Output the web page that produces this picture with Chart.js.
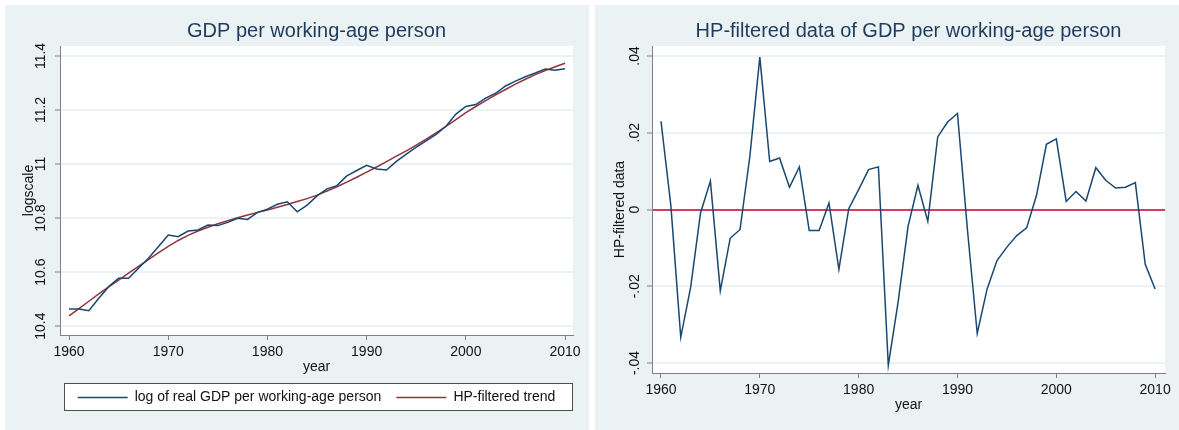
<!DOCTYPE html>
<html><head><meta charset="utf-8">
<script src="https://cdn.jsdelivr.net/npm/chart.js@4/dist/chart.umd.min.js"></script>
<style>
html,body{margin:0;padding:0;background:#fff;width:1179px;height:430px;overflow:hidden}
.panel{position:absolute;top:5px;width:584px;height:425px;background:#eaf2f3}
#p1{left:5px} #p2{left:595px}
canvas{display:block}
</style></head><body>
<div class="panel" id="p1"><canvas id="c1" width="584" height="425"></canvas></div>
<div class="panel" id="p2"><canvas id="c2" width="584" height="425"></canvas></div>
<script>
const years = [1960,1961,1962,1963,1964,1965,1966,1967,1968,1969,
  1970,1971,1972,1973,1974,1975,1976,1977,1978,1979,
  1980,1981,1982,1983,1984,1985,1986,1987,1988,1989,
  1990,1991,1992,1993,1994,1995,1996,1997,1998,1999,
  2000,2001,2002,2003,2004,2005,2006,2007,2008,2009,2010];
const logGdp = [10.463,10.463,10.457,10.503,10.546,10.577,10.577,10.614,10.651,10.694,
  10.737,10.731,10.752,10.756,10.774,10.772,10.784,10.799,10.795,10.821,
  10.833,10.851,10.860,10.823,10.848,10.882,10.908,10.920,10.956,10.976,
  10.995,10.982,10.978,11.010,11.037,11.063,11.086,11.110,11.140,11.185,
  11.213,11.220,11.244,11.262,11.289,11.307,11.323,11.337,11.352,11.347,11.353];
const hpTrend = [10.438,10.465,10.492,10.519,10.545,10.570,10.596,10.621,10.646,10.671,
  10.695,10.717,10.736,10.752,10.766,10.779,10.790,10.801,10.811,10.821,
  10.830,10.840,10.850,10.861,10.872,10.885,10.900,10.916,10.933,10.951,
  10.970,10.989,11.009,11.029,11.049,11.070,11.092,11.115,11.139,11.164,
  11.190,11.213,11.235,11.256,11.276,11.296,11.314,11.331,11.346,11.360,11.373];
const hpCycle = [0.0230,0.0010,-0.0333,-0.0203,-0.0009,0.0074,-0.0212,-0.0075,-0.0052,0.0140,
  0.0397,0.0125,0.0134,0.0058,0.0111,-0.0055,-0.0055,0.0017,-0.0156,0.0002,
  0.0052,0.0104,0.0111,-0.0406,-0.0240,-0.0044,0.0063,-0.0031,0.0189,0.0228,
  0.0250,-0.0050,-0.0323,-0.0207,-0.0133,-0.0098,-0.0068,-0.0048,0.0037,0.0170,
  0.0184,0.0021,0.0047,0.0022,0.0109,0.0076,0.0056,0.0058,0.0070,-0.0143,-0.0207];
const xTickValues = [1960,1970,1980,1990,2000,2010];
const leftYTicks = [10.4,10.6,10.8,11,11.2,11.4];
const leftYTickLabels = ['10.4','10.6','10.8','11','11.2','11.4'];
const rightYTicks = [-0.04,-0.02,0,0.02,0.04];
const rightYTickLabels = ['-.04','-.02','0','.02','.04'];

const FONT = 'Liberation Sans, Arial, sans-serif';
const NAVY = '#1a476f', MAROON = '#90353b', ZERO = '#cf3f5f';
const GRID = '#eaf2f3', AXIS = '#808080', TXT = '#111111', TITLE = '#1e3a5c';
Chart.defaults.font.family = FONT;
Chart.defaults.devicePixelRatio = 1;

const pts = (vals) => years.map((y, i) => ({x: y, y: vals[i]}));
const labelFor = (ticksArr, labels) => (v) => {
  const i = ticksArr.findIndex(t => Math.abs(t - v) < 1e-9);
  return i >= 0 ? labels[i] : '';
};

const bgPlugin = {
  id: 'bgPlugin',
  beforeDraw(chart, args, opts) {
    const {ctx, chartArea: a} = chart;
    ctx.save();
    ctx.fillStyle = '#ffffff';
    ctx.fillRect(a.left, a.top, a.right - a.left, a.bottom - a.top);
    if (opts && opts.legendBox && chart.legend && chart.legend.legendHitBoxes && chart.legend.legendHitBoxes.length) {
      const hb = chart.legend.legendHitBoxes;
      const top = hb[0].top - 7, bot = hb[0].top + hb[0].height + 6;
      const l = a.left + 4.5, r = a.right - 0.5;
      ctx.fillStyle = '#ffffff';
      ctx.fillRect(l, top, r - l, bot - top);
      ctx.strokeStyle = '#4d4d4d';
      ctx.lineWidth = 1;
      ctx.strokeRect(l, Math.round(top) + 0.5, r - l, Math.round(bot - top));
    }
    ctx.restore();
  }
};

function xScale(maxV) {
  return {
    type: 'linear', min: 1959.09, max: maxV,
    afterBuildTicks: s => { s.ticks = xTickValues.map(v => ({value: v})); },
    afterFit: s => { s.height = 40.4; },
    ticks: {autoSkip: false, maxRotation: 0, padding: 4, color: TXT,
      font: {size: 14}, callback: v => String(v)},
    grid: {drawOnChartArea: false, drawTicks: true, tickLength: 5, tickColor: AXIS, tickWidth: 1},
    border: {display: true, color: AXIS, width: 1},
    title: {display: true, text: 'year', color: TXT, font: {size: 14}, padding: {top: 0, bottom: 0}}
  };
}

function yScale(min, max, tickVals, tickLabels, title, width, titlePad, zero) {
  return {
    type: 'linear', min: min, max: max,
    afterBuildTicks: s => { s.ticks = tickVals.map(v => ({value: v})); },
    afterFit: s => { s.width = width; },
    ticks: {autoSkip: false, minRotation: 90, maxRotation: 90, crossAlign: 'center',
      padding: 0, color: TXT, font: {size: 14}, callback: labelFor(tickVals, tickLabels)},
    grid: {
      drawOnChartArea: true, drawTicks: true, tickLength: 5, tickColor: AXIS, tickWidth: 1,
      color: c => (zero && c.tick && Math.abs(c.tick.value) < 1e-9) ? ZERO : GRID,
      lineWidth: 2
    },
    border: {display: true, color: AXIS, width: 1},
    title: {display: true, text: title, color: TXT, font: {size: 14}, padding: {top: titlePad, bottom: 0}}
  };
}

new Chart(document.getElementById('c1'), {
  type: 'line',
  data: {datasets: [
    {label: 'log of real GDP per working-age person', data: pts(logGdp),
     borderColor: NAVY, backgroundColor: NAVY, borderWidth: 1.5, pointRadius: 0, tension: 0},
    {label: 'HP-filtered trend', data: pts(hpTrend),
     borderColor: MAROON, backgroundColor: MAROON, borderWidth: 1.5, pointRadius: 0, tension: 0}
  ]},
  options: {
    responsive: false, animation: false, devicePixelRatio: 1,
    layout: {padding: {left: 0, right: 16, top: 0, bottom: 15.6}},
    plugins: {
      bgPlugin: {legendBox: true},
      tooltip: {enabled: false},
      title: {display: true, fullSize: false, text: 'GDP per working-age person', color: TITLE,
        font: {size: 20, weight: 'normal'}, padding: {top: 14.5, bottom: 2.5}},
      legend: {display: true, position: 'bottom', fullSize: false,
        labels: {boxWidth: 50, boxHeight: 0, padding: 15, color: TXT, font: {size: 14}}}
    },
    scales: {
      x: xScale(2010.8),
      y: yScale(10.367, 11.437, leftYTicks, leftYTickLabels, 'logscale', 55, 15.6, false)
    }
  },
  plugins: [bgPlugin]
});

new Chart(document.getElementById('c2'), {
  type: 'line',
  data: {datasets: [
    {label: 'HP-filtered data', data: pts(hpCycle),
     borderColor: NAVY, backgroundColor: NAVY, borderWidth: 1.5, pointRadius: 0, tension: 0}
  ]},
  options: {
    responsive: false, animation: false, devicePixelRatio: 1,
    layout: {padding: {left: 0, right: 14, top: 0, bottom: 16.6}},
    plugins: {
      bgPlugin: {legendBox: false},
      tooltip: {enabled: false},
      title: {display: true, fullSize: false, text: 'HP-filtered data of GDP per working-age person', color: TITLE,
        font: {size: 20, weight: 'normal'}, padding: {top: 14.5, bottom: 2.5}},
      legend: {display: false}
    },
    scales: {
      x: xScale(2011.0),
      y: yScale(-0.0426, 0.0426, rightYTicks, rightYTickLabels, 'HP-filtered data', 57, 16.6, true)
    }
  },
  plugins: [bgPlugin]
});
</script>
</body></html>
